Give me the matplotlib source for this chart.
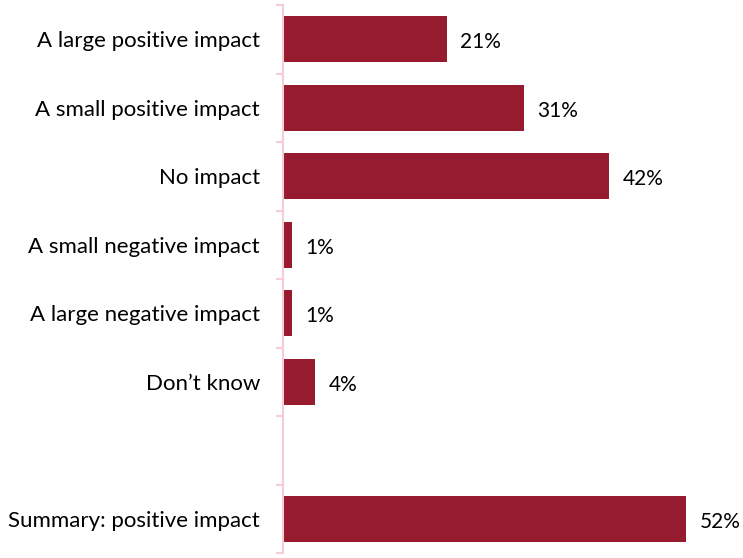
import matplotlib.pyplot as plt
from matplotlib.ticker import FixedLocator

labels = ["A large positive impact", "A small positive impact", "No impact",
          "A small negative impact", "A large negative impact", "Don\u2019t know",
          "", "Summary: positive impact"]
values = [21, 31, 42, 1, 1, 4, None, 52]

bar_color = "#961B2F"
axis_color = "#F6CDD5"

plt.rcParams['font.family'] = ['Lato', 'DejaVu Sans']

fig = plt.figure(figsize=(7.43, 5.58), dpi=100)
ax = fig.add_axes([283 / 743, 5 / 558, 1 - 283 / 743, 548 / 558])

pos = list(range(len(labels)))
for p, v in zip(pos, values):
    if v is None:
        continue
    ax.barh(p, v, height=0.67, color=bar_color, left=0.15)
    ax.annotate(f"{v}%", (v, p), xytext=(10.5, -2), textcoords="offset points",
                va="center", ha="left", fontsize=15, color="black")

ax.set_ylim(len(labels) - 0.5, -0.5)
ax.set_xlim(0, 59.5)

ax.set_yticks(pos)
ax.set_yticklabels(labels, fontsize=16, color="black")
ax.yaxis.set_minor_locator(FixedLocator([i - 0.5 for i in range(len(labels) + 1)]))
ax.tick_params(axis="y", which="major", length=0, pad=16.5)
ax.tick_params(axis="y", which="minor", length=5, width=1.5, color=axis_color)
ax.set_xticks([])

for s in ["top", "right", "bottom"]:
    ax.spines[s].set_visible(False)
ax.spines["left"].set_color(axis_color)
ax.spines["left"].set_linewidth(1.5)

fig.savefig("out.png", dpi=100)
